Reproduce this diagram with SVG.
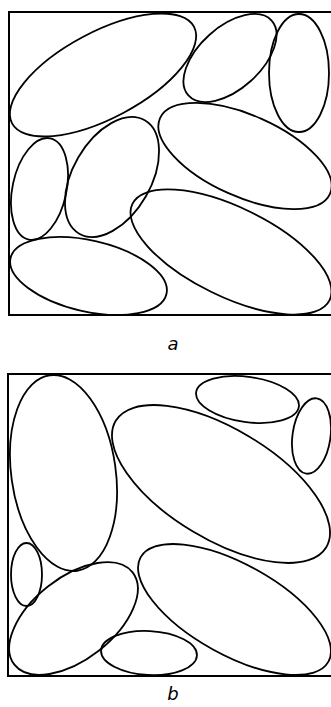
<svg xmlns="http://www.w3.org/2000/svg" width="331" height="707" viewBox="0 0 331 707">
<style>
.frame{fill:none;stroke:#000;stroke-width:2}
.e{fill:none;stroke:#000;stroke-width:1.8}
.lbl{font-family:"DejaVu Sans",sans-serif;font-style:italic;font-size:18px;fill:#000;text-anchor:middle}
</style>
<rect width="331" height="707" fill="#fff"/>
<g id="panel-a">
<rect class="frame" x="9" y="12" width="330" height="303"/>
<ellipse id="a1" class="e" cx="103" cy="75" rx="103" ry="43" transform="rotate(-28 103 75)"/>
<ellipse id="a2" class="e" cx="230" cy="58" rx="56" ry="31" transform="rotate(-42 230 58)"/>
<ellipse id="a3" class="e" cx="299" cy="73" rx="30" ry="59"/>
<ellipse id="a4" class="e" cx="245" cy="156" rx="93" ry="40.7" transform="rotate(24 245 156)"/>
<ellipse id="a5" class="e" cx="39.5" cy="189" rx="27" ry="51.8" transform="rotate(12 39.5 189)"/>
<ellipse id="a6" class="e" cx="112" cy="177" rx="39" ry="65.5" transform="rotate(30 112 177)"/>
<ellipse id="a7" class="e" cx="231" cy="252" rx="109.7" ry="44.5" transform="rotate(26 231 252)"/>
<ellipse id="a8" class="e" cx="88.5" cy="276" rx="80" ry="35.5" transform="rotate(13 88.5 276)"/>
<text class="lbl" x="173" y="350">a</text>
</g>
<g id="panel-b">
<rect class="frame" x="8" y="374" width="330" height="302"/>
<ellipse id="b1" class="e" cx="63.5" cy="473" rx="52.2" ry="98.7" transform="rotate(-8 63.5 473)"/>
<ellipse id="b2" class="e" cx="247.5" cy="399.5" rx="51.9" ry="22.6" transform="rotate(8 247.5 399.5)"/>
<ellipse id="b3" class="e" cx="311.5" cy="436" rx="19" ry="38" transform="rotate(8 311.5 436)"/>
<ellipse id="b4" class="e" cx="221" cy="484" rx="122.8" ry="55.2" transform="rotate(31 221 484)"/>
<ellipse id="b5" class="e" cx="26.5" cy="574.5" rx="15.5" ry="31.5"/>
<ellipse id="b6" class="e" cx="73.5" cy="618.5" rx="75" ry="41" transform="rotate(-38 73.5 618.5)"/>
<ellipse id="b7" class="e" cx="149" cy="653" rx="48" ry="22" transform="rotate(3 149 653)"/>
<ellipse id="b8" class="e" cx="234.5" cy="609.5" rx="107.4" ry="45.4" transform="rotate(29 234.5 609.5)"/>
<text class="lbl" x="173" y="700">b</text>
</g>
</svg>
